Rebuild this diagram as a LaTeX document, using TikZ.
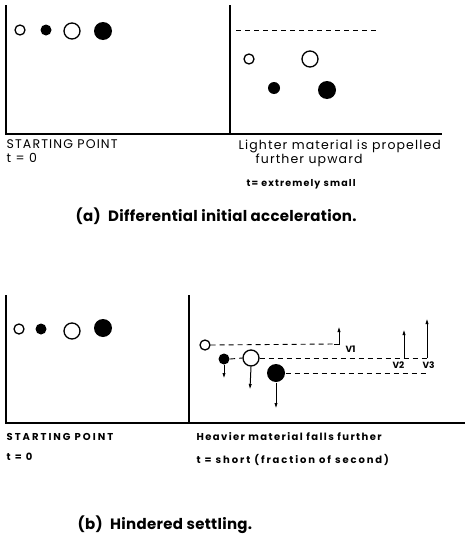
\documentclass[tikz,border=0pt]{standalone}
\usepackage{fontspec}
\setmainfont{Poppins}
\usetikzlibrary{
arrows.meta,
positioning
}

\begin{document}
\begin{tikzpicture}[
    x=1pt, y=-1pt,
    line width=1.3pt,
    >={Triangle[angle=40:4pt,length=5pt]},
    hollow/.style={circle, draw, fill=white, inner sep=0pt, line width=1.3pt},
    dot/.style={circle, fill=black, inner sep=0pt},
    level/.style={line width=0.9pt, dash pattern=on 5pt off 4pt},
    fall/.style={->, line width=1pt},
    lbl/.style={anchor=base west, inner sep=0pt,
      font=\fontsize{12.5}{14}\selectfont\addfontfeatures{LetterSpace=9}},
    small/.style={anchor=base west, inner sep=0pt,
      font=\fontsize{10}{12}\selectfont\bfseries\addfontfeatures{LetterSpace=#1}},
    small/.default=14,
    tiny/.style={anchor=base west, inner sep=0pt,
      font=\fontsize{9.5}{11}\selectfont\bfseries\addfontfeatures{LetterSpace=12}},
    vlabel/.style={anchor=base west, inner sep=0pt, font=\fontsize{9}{11}\selectfont\bfseries},
    caption/.style={anchor=base west, inner sep=0pt,
      font=\fontsize{15}{17}\selectfont\bfseries\addfontfeatures{LetterSpace=2}}
  ]
  \useasboundingbox (0,0) rectangle (465,538);

  % (a) frame
  \draw (6,5) -- (6,134) -- (442,134);
  \draw (230,5) -- (230,134);

  % (a) starting point
  \node[hollow, minimum size=10pt] (a1) at (20,30) {};
  \node[dot, minimum size=11pt] (a2) at (46,30) {};
  \node[hollow, minimum size=16pt] (a3) at (72,31) {};
  \node[dot, minimum size=18pt] (a4) at (103,31) {};

  % (a) after acceleration
  \draw[level] (236,30) -- (377,30);
  \node[hollow, minimum size=10pt] (ra1) at (249,59) {};
  \node[hollow, minimum size=16pt] (ra3) at (310,59) {};
  \node[dot, minimum size=12pt] (ra2) at (274,88) {};
  \node[dot, minimum size=18pt] (ra4) at (327,90) {};

  \node[lbl] (startA) at (6,148) {STARTING POINT};
  \node[lbl] (tA) at (6,162) {t = 0};
  \node[lbl] (light) at (238,149) {Lighter material is propelled};
  \node[lbl] (upward) at (255,163) {further upward};
  \node[tiny] (tsmall) at (246,186) {t= extremely small};
  \node[caption] (capA) at (75,221) {(a)\enspace Differential initial acceleration.};

  % (b) frame
  \draw (6,295) -- (6,423) -- (465,423);
  \draw (189,295) -- (189,423);

  % (b) starting point
  \node[hollow, minimum size=10pt] (b1) at (19,329) {};
  \node[dot, minimum size=11pt] (b2) at (41,329) {};
  \node[hollow, minimum size=16pt] (b3) at (72,331) {};
  \node[dot, minimum size=18pt] (b4) at (103,328) {};

  % (b) settling
  \node[hollow, minimum size=10pt] (rb1) at (205,345) {};
  \node[dot, minimum size=11pt] (rb2) at (224,359) {};
  \node[hollow, minimum size=16pt] (rb3) at (251,358) {};
  \node[dot, minimum size=18pt] (rb4) at (276,373) {};

  \coordinate (v1) at (339,344);
  \coordinate (v2) at (404,358);
  \coordinate (v3) at (427,358);

  \draw[level] (rb1.east) -- ([xshift=-5pt]v1);
  \draw[fall] ([xshift=-5pt]v1) -- (v1) -- (339,327);
  \draw[level] (rb2.east) -- (rb3.west);
  \draw[level] (rb3.east) -- (430,358);
  \draw[level] (rb4.east) -- (428,373);
  \draw[fall] (v2) -- (404,330);
  \draw[fall] (v3) -- (427,319);
  \draw[fall] (rb2.south) -- (224,378);
  \draw[fall] (rb3.south) -- (250,389);
  \draw[fall] (rb4.south) -- (276,408);

  \node[vlabel] (V1) at (345,352) {V1};
  \node[vlabel] (V2) at (392,368) {V2};
  \node[vlabel] (V3) at (422,368) {V3};

  \node[small=20] (startB) at (6,440) {STARTING POINT};
  \node[small=20] (tB) at (6,460) {t = 0};
  \node[small=14] (heavy) at (196,440) {Heavier material falls further};
  \node[small=19] (tshort) at (196,463) {t = short (fraction of second)};
  \node[caption] (capB) at (77,529) {(b)\enspace Hindered settling.};
\end{tikzpicture}
\end{document}
